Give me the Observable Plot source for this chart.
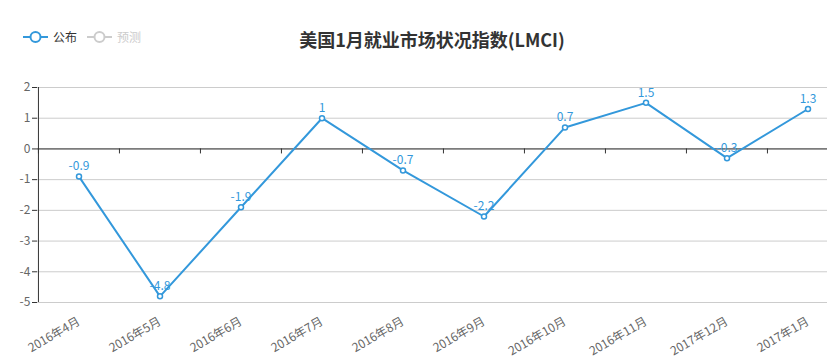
<!DOCTYPE html>
<html>
<head>
<meta charset="utf-8">
<script src="https://cdn.jsdelivr.net/npm/d3@7"></script>
<script src="https://cdn.jsdelivr.net/npm/@observablehq/plot@0.6"></script>
<style>
  html, body { margin: 0; padding: 0; background: #fff; overflow: hidden; }
  body { width: 827px; height: 364px; font-family: "Noto Sans CJK SC", "Noto Sans", sans-serif; }
  #header { position: relative; width: 827px; height: 60px; }
  #title { position: absolute; left: 432px; top: 28px; transform: translateX(-50%); font-size: 18px; font-weight: bold; color: #333; white-space: nowrap; line-height: 22px; }
  .leg { position: absolute; top: 29px; display: flex; align-items: center; font-size: 12px; line-height: 16px; }
  .leg svg { margin-right: 5px; }
  #chart svg { display: block; }
</style>
</head>
<body>
<div id="header"></div>
<div id="chart"></div>
<script>
const months = ["2016年4月","2016年5月","2016年6月","2016年7月","2016年8月","2016年9月","2016年10月","2016年11月","2017年12月","2017年1月"];
const values = [-0.9, -4.8, -1.9, 1, -0.7, -2.2, 0.7, 1.5, -0.3, 1.3];
const yTicks = [-5, -4, -3, -2, -1, 0, 1, 2];
const seriesNames = ["公布", "预测"];
const seriesColors = ["#3398DB", "#cccccc"];
const legendTextColors = ["#333333", "#cccccc"];
const titleText = "美国1月就业市场状况指数(LMCI)";

const data = months.map((m, i) => ({month: m, value: values[i]}));

// header: legend + title
const header = document.getElementById("header");
const legendLefts = [23, 87];
seriesNames.forEach((name, i) => {
  const d = document.createElement("div");
  d.className = "leg";
  d.style.left = legendLefts[i] + "px";
  d.style.color = legendTextColors[i];
  d.innerHTML = `<svg width="25" height="14"><line x1="0" y1="7" x2="25" y2="7" stroke="${seriesColors[i]}" stroke-width="2"/><circle cx="12.5" cy="7" r="5" fill="#fff" stroke="${seriesColors[i]}" stroke-width="2"/></svg><span>${name}</span>`;
  header.appendChild(d);
});
const t = document.createElement("div");
t.id = "title";
t.textContent = titleText;
header.appendChild(t);

const W = 827, H = 304;
const mLeft = 37;
const xRange = [mLeft, 848];
const half = (xRange[1] - xRange[0]) / months.length / 2;
const frameW = W - mLeft;
const axisColor = "#333";
const labelColor = "#666";
const lineColor = seriesColors[0];
const first = () => months[0];

const chart = Plot.plot({
  width: W,
  height: H,
  marginLeft: mLeft,
  marginRight: 0,
  marginTop: 27,
  marginBottom: 62,
  style: {fontFamily: '"Noto Sans CJK SC", "Noto Sans", sans-serif', fontSize: "12px", background: "#fff", overflow: "hidden"},
  x: {type: "band", domain: months, range: xRange, padding: 0, axis: null},
  y: {domain: [-5, 2], axis: null},
  marks: [
    Plot.ruleY(yTicks, {stroke: "#cccccc", strokeWidth: 1}),
    // y axis line
    Plot.ruleX([months[0]], {y1: -5, y2: 2, dx: -half, stroke: axisColor}),
    // y tick marks
    Plot.ruleY(yTicks, {insetLeft: -5, insetRight: frameW, stroke: axisColor}),
    // y tick labels
    Plot.text(yTicks, {y: d => d, x: first, text: d => String(d), dx: -half - 8, textAnchor: "end", fill: labelColor, fontSize: 12}),
    // x axis line at zero
    Plot.ruleY([0], {stroke: axisColor}),
    // x ticks at band boundaries
    Plot.ruleX(months, {y1: 0, y2: 0, dx: -half, insetBottom: -5, stroke: axisColor}),
    // x tick labels
    Plot.text(months, {x: d => d, y: -5, dy: 18, dx: 0, rotate: -30, textAnchor: "end", fill: labelColor, fontSize: 12}),
    // series
    Plot.line(data, {x: "month", y: "value", stroke: lineColor, strokeWidth: 2}),
    Plot.dot(data, {x: "month", y: "value", r: 2.5, fill: "#fff", stroke: lineColor, strokeWidth: 1.5}),
    Plot.text(data, {x: "month", y: "value", text: d => String(d.value), dy: -10, fill: lineColor, fontSize: 12})
  ]
});
document.getElementById("chart").appendChild(chart);
</script>
</body>
</html>
